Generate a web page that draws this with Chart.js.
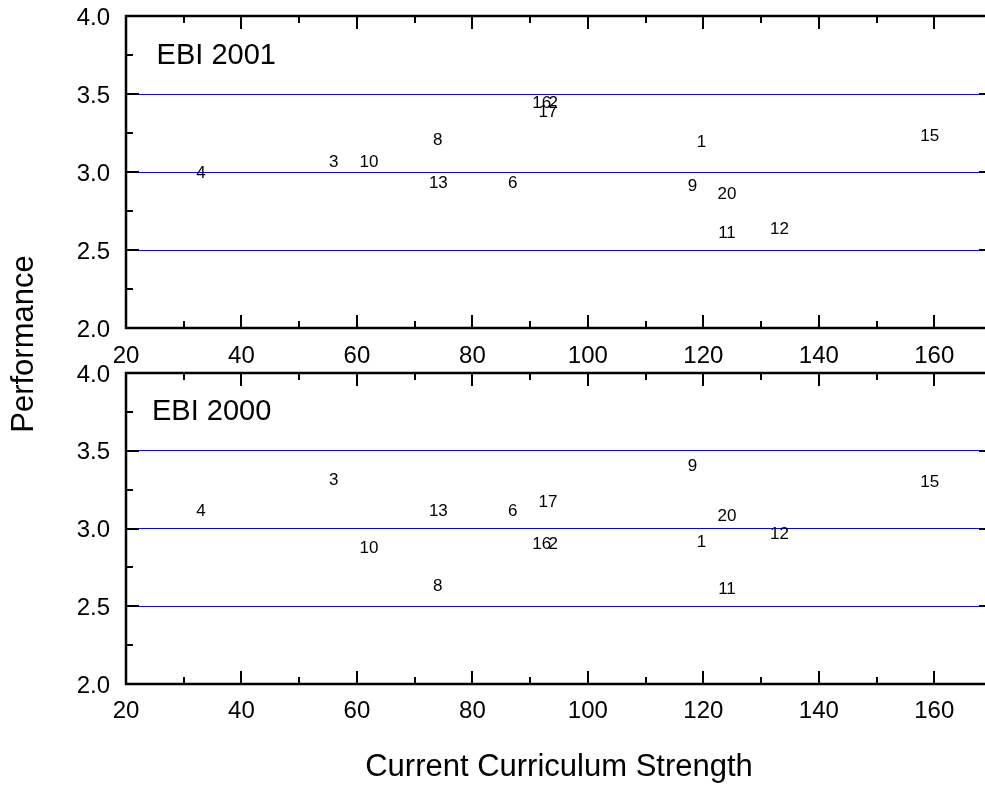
<!DOCTYPE html>
<html>
<head>
<meta charset="utf-8">
<script src="https://cdn.jsdelivr.net/npm/chart.js@4.4.0/dist/chart.umd.min.js"></script>
<style>
html, body { margin: 0; padding: 0; background: #fff; overflow: hidden; }
#wrap { position: relative; width: 985px; height: 786px; overflow: hidden; }
canvas { position: absolute; left: 0; top: 0; }
</style>
</head>
<body>
<div id="wrap">
  <canvas id="chartTop" width="1000" height="786"></canvas>
  <canvas id="chartBottom" width="1000" height="786"></canvas>
</div>
<script>
// program numbers, curriculum strength (x) and performance (y) for each year
var programs = ['1', '2', '3', '4', '6', '8', '9', '10', '11', '12', '13', '15', '16', '17', '20'];
var strength = [119.7, 94.0, 56.0, 33.0, 87.0, 74.0, 118.1, 62.1, 124.1, 133.2, 74.1, 159.2, 92.0, 93.1, 124.1];
var perf2001 = [3.19, 3.44, 3.06, 2.99, 2.93, 3.20, 2.91, 3.06, 2.61, 2.63, 2.93, 3.23, 3.44, 3.38, 2.86];
var perf2000 = [2.91, 2.90, 3.31, 3.11, 3.11, 2.63, 3.40, 2.87, 2.61, 2.96, 3.11, 3.30, 2.90, 3.17, 3.08];

var xTicks = [20, 40, 60, 80, 100, 120, 140, 160];
var yTicks = [2.0, 2.5, 3.0, 3.5, 4.0];
var refLines = [2.5, 3.0, 3.5];

var FONT = '"Liberation Sans", Arial, sans-serif';
Chart.defaults.font.family = FONT;
Chart.defaults.color = '#000';

// box round the plot with inward ticks
var frameTicks = {
    id: 'frameTicks',
    afterDraw: function (chart) {
        var ctx = chart.ctx, a = chart.chartArea;
        var x = chart.scales.x, y = chart.scales.y;
        ctx.save();
        ctx.strokeStyle = '#000';
        ctx.lineWidth = 2;
        ctx.beginPath();
        for (var v = 30; v < 170; v += 10) {
            var px = Math.round(x.getPixelForValue(v));
            var len = v % 20 === 0 ? 13 : 7;
            ctx.moveTo(px, a.bottom); ctx.lineTo(px, a.bottom - len);
            ctx.moveTo(px, a.top); ctx.lineTo(px, a.top + len);
        }
        for (var k = 1; k < 8; k++) {
            var py = Math.round(y.getPixelForValue(2 + k * 0.25));
            var l2 = k % 2 === 0 ? 13 : 7;
            ctx.moveTo(a.left, py); ctx.lineTo(a.left + l2, py);
            ctx.moveTo(a.right, py); ctx.lineTo(a.right - l2, py);
        }
        ctx.stroke();
        ctx.lineWidth = 2.5;
        ctx.beginPath();
        ctx.rect(a.left, a.top, a.right - a.left, a.bottom - a.top);
        ctx.stroke();
        ctx.restore();
    }
};

// program numbers written at each point, plus the panel name
var pointLabels = {
    id: 'pointLabels',
    afterDatasetsDraw: function (chart, args, opts) {
        var ctx = chart.ctx;
        var meta = chart.getDatasetMeta(0);
        ctx.save();
        ctx.fillStyle = '#000';
        ctx.font = '17px ' + FONT;
        ctx.textAlign = 'center';
        ctx.textBaseline = 'middle';
        meta.data.forEach(function (pt, i) {
            ctx.fillText(programs[i], pt.x, pt.y);
        });
        ctx.font = '29px ' + FONT;
        ctx.textAlign = 'left';
        ctx.textBaseline = 'alphabetic';
        ctx.fillText(opts.title, chart.scales.x.getPixelForValue(opts.tx), chart.scales.y.getPixelForValue(opts.ty));
        if (opts.sideTitle) {
            ctx.font = '31px ' + FONT;
            ctx.textAlign = 'center';
            ctx.textBaseline = 'middle';
            ctx.translate(24, 344);
            ctx.rotate(-Math.PI / 2);
            ctx.fillText(opts.sideTitle, 0, 0);
        }
        ctx.restore();
    }
};

function makeConfig(values, p) {
    return {
        type: 'scatter',
        data: {
            datasets: [{
                data: strength.map(function (s, i) { return { x: s, y: values[i] }; }),
                pointRadius: 0,
                pointHoverRadius: 0,
                showLine: false
            }]
        },
        options: {
            responsive: false,
            animation: false,
            events: [],
            layout: { padding: { top: p.top, bottom: p.bottom, left: 0, right: 8 } },
            plugins: {
                legend: { display: false },
                tooltip: { enabled: false },
                pointLabels: { title: p.title, tx: p.tx, ty: p.ty, sideTitle: p.sideTitle }
            },
            scales: {
                x: {
                    type: 'linear',
                    min: 20,
                    max: 170,
                    afterBuildTicks: function (s) { s.ticks = xTicks.map(function (v) { return { value: v }; }); },
                    afterFit: function (s) { s.height = p.xHeight; },
                    grid: { display: false },
                    border: { display: false },
                    ticks: { font: { size: 24 }, padding: p.xPad, maxRotation: 0, autoSkip: false },
                    title: {
                        display: !!p.xTitle,
                        text: p.xTitle || '',
                        font: { size: 31 },
                        padding: { top: 0, bottom: 0 }
                    }
                },
                y: {
                    type: 'linear',
                    min: 2,
                    max: 4,
                    afterBuildTicks: function (s) { s.ticks = yTicks.map(function (v) { return { value: v }; }); },
                    afterFit: function (s) { s.width = 126; s.paddingTop = 0; s.paddingBottom = 0; },
                    grid: {
                        drawTicks: false,
                        lineWidth: 1,
                        color: function (c) {
                            return refLines.indexOf(c.tick.value) >= 0 ? '#0000ff' : 'rgba(0,0,0,0)';
                        }
                    },
                    border: { display: false },
                    ticks: {
                        font: { size: 24 },
                        padding: 16,
                        labelOffset: 2,
                        callback: function (v) { return Number(v).toFixed(1); }
                    }
                }
            }
        },
        plugins: [frameTicks, pointLabels]
    };
}

new Chart(document.getElementById('chartTop'), makeConfig(perf2001, {
    top: 16, bottom: 408, xHeight: 50, xPad: 6,
    title: 'EBI 2001', tx: 25.3, ty: 3.695, sideTitle: 'Performance'
}));

new Chart(document.getElementById('chartBottom'), makeConfig(perf2000, {
    top: 373, bottom: 0, xHeight: 102, xPad: 5,
    title: 'EBI 2000', tx: 24.5, ty: 3.70, xTitle: 'Current Curriculum Strength'
}));
</script>
</body>
</html>
